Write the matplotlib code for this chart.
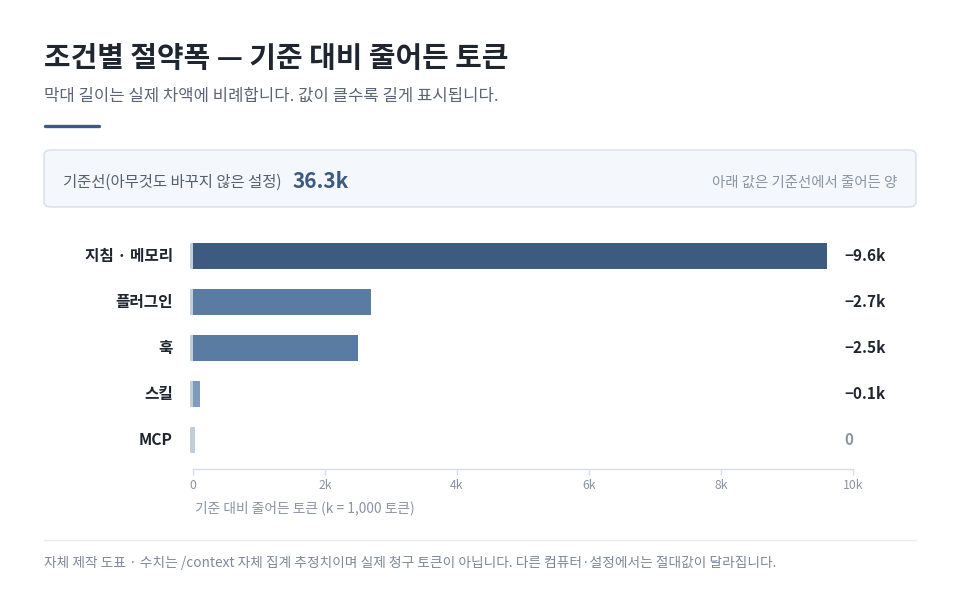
import matplotlib
matplotlib.use("Agg")
import matplotlib.pyplot as plt
from matplotlib.patches import FancyBboxPatch
from matplotlib.lines import Line2D

plt.rcParams['font.family'] = ['Noto Sans CJK KR', 'DejaVu Sans']

categories = ["지침 · 메모리", "플러그인", "훅", "스킬", "MCP"]
values = [9.6, 2.7, 2.5, 0.1, 0.0]
value_labels = ["−9.6k", "−2.7k", "−2.5k", "−0.1k", "0"]
bar_colors = ["#3d5a80", "#5a7ca3", "#5a7ca3", "#7f9bbb", "#c3cedb"]
label_colors = ["#1f2630", "#1f2630", "#1f2630", "#1f2630", "#8a94a3"]
xticks = [0, 2, 4, 6, 8, 10]
xtick_labels = ["0", "2k", "4k", "6k", "8k", "10k"]
baseline_label = "기준선(아무것도 바꾸지 않은 설정)"
baseline_value = "36.3k"

W, H = 960, 613
fig = plt.figure(figsize=(W / 100, H / 100), dpi=100)
fig.patch.set_facecolor("white")

def fx(px):
    return px / W

def fy(py):
    return 1 - py / H

# Title / subtitle
fig.text(fx(44), fy(58), "조건별 절약폭 — 기준 대비 줄어든 토큰", fontsize=20.8,
         fontweight="bold", color="#1f2630", va="center", ha="left")
fig.text(fx(44), fy(96), "막대 길이는 실제 차액에 비례합니다. 값이 클수록 길게 표시됩니다.",
         fontsize=12, color="#5b6573", va="center", ha="left")
fig.add_artist(Line2D([fx(45), fx(99)], [fy(126), fy(126)], color="#3d5a80",
                      lw=2.4, solid_capstyle="round"))

# Baseline box
box = FancyBboxPatch((fx(44), fy(207)), fx(916) - fx(44), fy(150) - fy(207),
                     boxstyle="round,pad=0,rounding_size=0.008",
                     transform=fig.transFigure, facecolor="#f4f7fb",
                     edgecolor="#d6deea", lw=1.0)
fig.add_artist(box)
fig.text(fx(63), fy(182), baseline_label, fontsize=11.1, color="#555f6d",
         va="center", ha="left")
fig.text(fx(293), fy(181), baseline_value, fontsize=15, fontweight="bold",
         color="#3d5a80", va="center", ha="left")
fig.text(fx(897), fy(183), "아래 값은 기준선에서 줄어든 양", fontsize=10.4,
         color="#8a94a3", va="center", ha="right")

# Axes
ax_left, ax_right = 193, 853
ax_top, ax_bottom = 233, 469
ax = fig.add_axes([fx(ax_left), fy(ax_bottom), fx(ax_right) - fx(ax_left),
                   fy(ax_top) - fy(ax_bottom)])
ax.set_facecolor("none")
n = len(categories)
ypos = list(range(n))
bh = 26 / 46

# light stub at origin for each row
ax.barh(ypos, [0.08] * n, left=-0.045, height=bh, color="#c3cedb",
        clip_on=False, zorder=2)
ax.barh(ypos, values, height=bh, color=bar_colors, zorder=3)

ax.set_xlim(0, 10)
ax.set_ylim(4 + 29 / 46, -0.5)
ax.set_yticks([])
ax.set_xticks(xticks)
ax.set_xticklabels(xtick_labels)
ax.tick_params(axis="x", colors="#d6deea", labelcolor="#8a94a3", labelsize=8.8,
               length=4, width=1, pad=3)
for s in ["top", "right", "left"]:
    ax.spines[s].set_visible(False)
ax.spines["bottom"].set_color("#d6deea")
ax.spines["bottom"].set_linewidth(1)

for i, (cat, vl, lc) in enumerate(zip(categories, value_labels, label_colors)):
    ax.text(-(ax_left - 173) / 66, i, cat, fontsize=11.3, fontweight="bold",
            color="#1f2630", ha="right", va="center", clip_on=False)
    ax.text((844 - ax_left) / 66, i, vl, fontsize=11, fontweight="bold",
            color=lc, ha="left", va="center", clip_on=False)

fig.text(fx(195), fy(508), "기준 대비 줄어든 토큰 (k = 1,000 토큰)", fontsize=9.9,
         color="#8a94a3", va="center", ha="left")

# Footer
fig.add_artist(Line2D([fx(44), fx(916)], [fy(540), fy(540)], color="#e8ecf1", lw=1))
fig.text(fx(44), fy(563),
         "자체 제작 도표 · 수치는 /context 자체 집계 추정치이며 실제 청구 토큰이 아닙니다. 다른 컴퓨터·설정에서는 절대값이 달라집니다.",
         fontsize=9.85, color="#7d8898", va="center", ha="left")

fig.savefig("out.png", dpi=100, facecolor="white")
